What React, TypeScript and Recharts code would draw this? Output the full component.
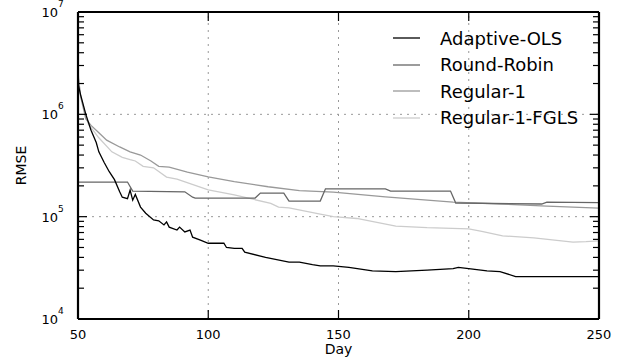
import React from "react";
import {
  LineChart,
  Line,
  XAxis,
  YAxis,
  ReferenceLine,
} from "recharts";

// RMSE per day (day, value)
const adaptiveOls: [number, number][] = [
  [50, 2.0e6], [51, 1.55e6], [53, 1.0e6], [55, 7.0e5], [57, 5.3e5], [58, 4.3e5],
  [60, 3.4e5], [62, 2.75e5], [64, 2.3e5], [66, 1.75e5], [67, 1.55e5], [69, 1.5e5],
  [70, 1.82e5], [71, 1.45e5], [72, 1.65e5], [74, 1.24e5], [76, 1.08e5], [79, 9.3e4],
  [81, 9.1e4], [83, 8.3e4], [84, 8.9e4], [85, 7.9e4], [88, 7.4e4], [89, 7.9e4],
  [91, 7.1e4], [93, 7.4e4], [94, 6.3e4], [97, 5.9e4], [100, 5.5e4], [106, 5.5e4],
  [107, 5.0e4], [110, 4.9e4], [113, 4.9e4], [114, 4.5e4], [122, 4.0e4], [131, 3.6e4],
  [135, 3.6e4], [140, 3.4e4], [143, 3.3e4], [148, 3.3e4], [154, 3.2e4], [163, 2.95e4],
  [172, 2.9e4], [184, 3.0e4], [194, 3.1e4], [196, 3.2e4], [200, 3.1e4], [207, 2.95e4],
  [212, 2.9e4], [218, 2.6e4], [250, 2.6e4],
];

const roundRobin: [number, number][] = [
  [50, 2.18e5], [69, 2.18e5], [71, 1.78e5], [91, 1.75e5], [94, 1.55e5], [95, 1.52e5],
  [118, 1.52e5], [120, 1.7e5], [129, 1.7e5], [131, 1.42e5], [143, 1.42e5], [145, 1.87e5],
  [168, 1.87e5], [170, 1.78e5], [193, 1.78e5], [195, 1.36e5], [228, 1.33e5],
  [230, 1.39e5], [250, 1.37e5],
];

const regular1: [number, number][] = [
  [50, 2.4e6], [51, 1.5e6], [53, 9.0e5], [55, 7.8e5], [58, 6.6e5], [61, 5.6e5],
  [66, 4.8e5], [70, 4.3e5], [74, 4.0e5], [78, 3.5e5], [81, 3.1e5], [85, 3.05e5],
  [92, 2.73e5], [100, 2.45e5], [110, 2.2e5], [123, 1.96e5], [135, 1.8e5], [148, 1.74e5],
  [168, 1.56e5], [194, 1.39e5], [212, 1.33e5], [230, 1.27e5], [250, 1.21e5],
];

const regular1Fgls: [number, number][] = [
  [50, 2.6e6], [51, 1.5e6], [54, 8.0e5], [58, 5.9e5], [63, 4.3e5], [67, 3.8e5],
  [70, 3.6e5], [72, 3.5e5], [75, 3.1e5], [79, 3.0e5], [84, 2.44e5], [88, 2.33e5],
  [100, 1.83e5], [110, 1.63e5], [124, 1.35e5], [127, 1.24e5], [131, 1.22e5],
  [143, 1.06e5], [148, 1.0e5], [157, 9.6e4], [172, 8.1e4], [184, 7.8e4], [200, 7.6e4],
  [205, 7.2e4], [213, 6.5e4], [225, 6.2e4], [240, 5.65e4], [245, 5.7e4], [250, 5.8e4],
];

const dayTicks = [50, 100, 150, 200, 250];
const gridDays = [100, 150, 200];
const gridRmse = [1e5, 1e6];
const logTicks = [1e4, 1e5, 1e6, 1e7].flatMap((d, i, arr) =>
  i === arr.length - 1 ? [d] : [1, 2, 3, 4, 5, 6, 7, 8, 9].map((m) => m * d)
);

const series = [
  { name: "Adaptive-OLS", points: adaptiveOls, color: "#000000" },
  { name: "Round-Robin", points: roundRobin, color: "#666666" },
  { name: "Regular-1", points: regular1, color: "#999999" },
  { name: "Regular-1-FGLS", points: regular1Fgls, color: "#cccccc" },
];

const FONT = "DejaVu Sans, sans-serif";

const isMajor = (v: number) => {
  const e = Math.log10(v);
  return Math.abs(e - Math.round(e)) < 1e-6;
};

// log ticks drawn inward, "10^n" labels only on the left side
const YTick = (props: any) => {
  const { payload, side } = props;
  const x = Number(props.x);
  const y = Number(props.y);
  const v = payload.value;
  const major = isMajor(v);
  const len = major ? 9 : 6;
  const dir = side === "left" ? 1 : -1;
  return (
    <g>
      <line x1={x} x2={x + dir * len} y1={y} y2={y} stroke="#000000" strokeWidth={1.2} />
      {side === "left" && major && (
        <g fontFamily={FONT} fill="#000">
          <text x={x - 20} y={y} dy={5} textAnchor="end" fontSize={13}>
            10
          </text>
          <text x={x - 20} y={y - 5} textAnchor="start" fontSize={9}>
            {Math.round(Math.log10(v))}
          </text>
        </g>
      )}
    </g>
  );
};

const XTick = (props: any) => {
  const { payload, side } = props;
  const x = Number(props.x);
  const y = Number(props.y);
  const dir = side === "bottom" ? -1 : 1;
  return (
    <g>
      <line x1={x} x2={x} y1={y} y2={y + dir * 9} stroke="#000000" strokeWidth={1.2} />
      {side === "bottom" && (
        <text x={x} y={y} dy={20} textAnchor="middle" fontSize={13} fontFamily={FONT} fill="#000">
          {payload.value}
        </text>
      )}
    </g>
  );
};

const RmseLabel = () => (
  <text
    x={26}
    y={165.5}
    transform="rotate(-90 26 165.5)"
    textAnchor="middle"
    fontSize={14}
    fontFamily={FONT}
    fill="#000"
  >
    RMSE
  </text>
);

const DayLabel = () => (
  <text x={338.5} y={354} textAnchor="middle" fontSize={14} fontFamily={FONT} fill="#000">
    Day
  </text>
);

const App: React.FC = () => {
  return (
    <div style={{ position: "absolute", left: 0, top: 0, width: 623, height: 358, background: "#fff" }}>
      <LineChart
        width={623}
        height={358}
        margin={{ top: 11, right: 23, bottom: 0, left: 0 }}
      >
        <XAxis
          xAxisId="bottom"
          type="number"
          dataKey="day"
          domain={[50, 250]}
          ticks={dayTicks}
          interval={0}
          allowDataOverflow
          orientation="bottom"
          height={39}
          tickSize={0}
          tickMargin={0}
          tickLine={false}
          axisLine={{ stroke: "#000", strokeWidth: 2.2 }}
          tick={<XTick side="bottom" />}
          label={<DayLabel />}
        />
        <XAxis
          xAxisId="top"
          type="number"
          dataKey="day"
          domain={[50, 250]}
          ticks={dayTicks}
          interval={0}
          allowDataOverflow
          orientation="top"
          height={1}
          tickSize={0}
          tickMargin={0}
          tickLine={false}
          axisLine={{ stroke: "#000", strokeWidth: 2.2 }}
          tick={<XTick side="top" />}
        />
        <YAxis
          yAxisId="left"
          type="number"
          scale="log"
          domain={[1e4, 1e7]}
          ticks={logTicks}
          interval={0}
          allowDataOverflow
          width={78}
          tickSize={0}
          tickMargin={0}
          tickLine={false}
          axisLine={{ stroke: "#000", strokeWidth: 2.2 }}
          tick={<YTick side="left" />}
          label={<RmseLabel />}
        />
        <YAxis
          yAxisId="right"
          orientation="right"
          type="number"
          scale="log"
          domain={[1e4, 1e7]}
          ticks={logTicks}
          interval={0}
          allowDataOverflow
          width={1}
          tickSize={0}
          tickMargin={0}
          tickLine={false}
          axisLine={{ stroke: "#000", strokeWidth: 2.2 }}
          tick={<YTick side="right" />}
        />
        {gridDays.map((d) => (
          <ReferenceLine
            key={`gx${d}`}
            x={d}
            xAxisId="bottom"
            yAxisId="left"
            stroke="#999"
            strokeWidth={1}
            strokeDasharray="2 5"
          />
        ))}
        {gridRmse.map((v) => (
          <ReferenceLine
            key={`gy${v}`}
            y={v}
            xAxisId="bottom"
            yAxisId="left"
            stroke="#999"
            strokeWidth={1}
            strokeDasharray="2 5"
          />
        ))}
        {series
          .slice()
          .reverse()
          .map((s) => (
            <Line
              key={s.name}
              xAxisId="bottom"
              yAxisId="left"
              data={s.points.map(([day, rmse]) => ({ day, rmse }))}
              dataKey="rmse"
              name={s.name}
              stroke={s.color}
              strokeWidth={1.3}
              dot={false}
              activeDot={false}
              type="linear"
              isAnimationActive={false}
            />
          ))}
      </LineChart>
      <div
        style={{
          position: "absolute",
          left: 388,
          top: 25,
          fontFamily: FONT,
          fontSize: 18,
          color: "#000",
        }}
      >
        {series.map((s) => (
          <div key={s.name} style={{ display: "flex", alignItems: "center", height: 26.5 }}>
            <svg width={52} height={10}>
              <line x1={5} x2={32} y1={5} y2={5} stroke={s.color} strokeWidth={1.3} />
            </svg>
            <span>{s.name}</span>
          </div>
        ))}
      </div>
    </div>
  );
};

export default App;
